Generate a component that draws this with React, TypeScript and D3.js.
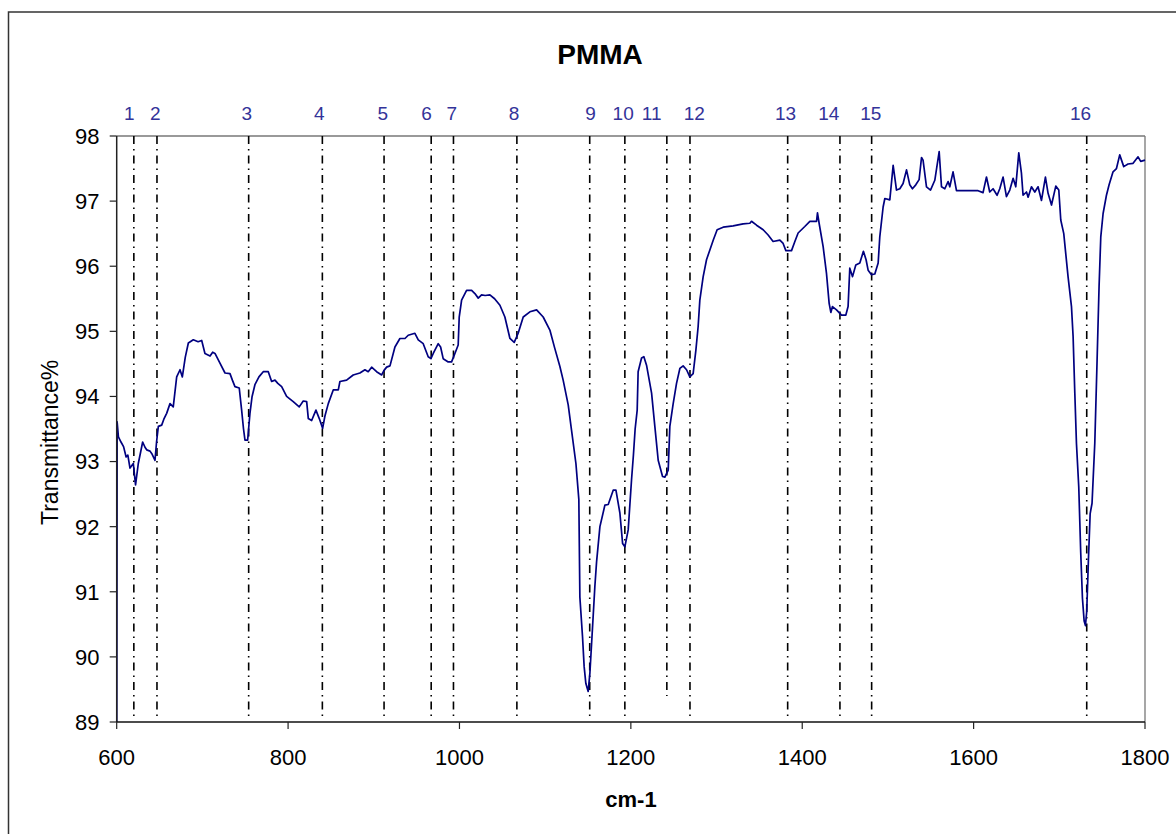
import React from "react";
import * as d3 from "d3";

const TITLE = "PMMA";
const X_TITLE = "cm-1";
const Y_TITLE = "Transmittance%";

const xTicks = [600, 800, 1000, 1200, 1400, 1600, 1800];
const yTicks = [89, 90, 91, 92, 93, 94, 95, 96, 97, 98];

// peak markers (wavenumber of dash-dot line), label positions and line bottoms
const peakIds = ["1","2","3","4","5","6","7","8","9","10","11","12","13","14","15","16"];
const peakWn = [620, 647, 754, 840, 912, 967, 993, 1067, 1152, 1193, 1242, 1269, 1383, 1444, 1481, 1732];
const peakLabelWn = [614.7, 645, 751.7, 836.4, 910.4, 961.7, 990.9, 1063.6, 1153, 1191, 1224.3, 1274, 1380.6, 1431, 1480, 1724.8];
const peakLineBottom = [89.06, 89.06, 89.06, 89.06, 89.06, 89.06, 89.06, 89.06, 89.06, 89.06, 89.4, 89.06, 89.06, 89.06, 89.06, 89.06];

// spectrum: wavenumber (cm-1) and transmittance (%)
const wavenumber = [
  600, 600.5, 602, 605, 608, 611, 613, 615.5, 619.4, 622, 625.2, 628, 630.3, 633, 635, 638.9, 641, 644.7, 646.5, 648.6,
  652.5, 655, 658.3, 662.2, 666, 670, 673.9, 676.6, 680, 683.6, 689.4, 695, 699.2, 703, 708.9, 712, 714.7, 720.5, 726.4, 732.2,
  735, 738, 743, 745.8, 748, 749.7, 752.8, 755.5, 758, 761.3, 766, 771, 776.9, 780.8, 784.7, 788, 792.5, 798.3, 806, 813,
  817.7, 821.7, 823.6, 827.5, 832.5, 836.4, 840.3, 843, 846.9, 852.7, 858.6, 860.5, 868.3, 876, 883.8, 889.7, 893.5, 897.5, 903.3, 909.2,
  912, 915, 918.9, 924.7, 930.5, 936.4, 940.2, 948, 951.9, 957.7, 963.5, 966.7, 969.4, 975.2, 978, 981, 986.9, 990.8, 994.7, 998.5,
  999.7, 1002.5, 1008.3, 1014.2, 1018, 1021.9, 1025.8, 1030, 1035.5, 1041, 1047.2, 1053, 1058.9, 1063.9, 1068.5, 1074.4, 1082.2, 1090, 1097.7, 1105.5,
  1111, 1117.2, 1121, 1126.9, 1130.8, 1135.9, 1139.3, 1140.5, 1143.6, 1145.5, 1147.5, 1150.2, 1152.2, 1155.3, 1158, 1160, 1163.9, 1169.7, 1173.6, 1179.4,
  1182.6, 1187.2, 1190.4, 1193, 1196.9, 1200.8, 1203, 1205, 1207.4, 1208.5, 1212.5, 1215.2, 1218.3, 1224.2, 1228, 1231.9, 1237, 1239.7, 1243.6, 1245.5,
  1249.4, 1253.3, 1257.2, 1261, 1265, 1268.8, 1272.7, 1275.9, 1278.5, 1280.5, 1284.4, 1288.3, 1292.2, 1296.1, 1300.7, 1307.7, 1319.4, 1331, 1338.9, 1340.8,
  1346.7, 1354.4, 1360.2, 1366, 1373.9, 1377.7, 1380.9, 1387.5, 1391.4, 1395.2, 1403, 1408.9, 1416.7, 1417.8, 1419.7, 1424.4, 1428.3, 1431.4, 1433.4, 1435.3,
  1440, 1445.8, 1450.9, 1453.5, 1455.5, 1458.7, 1462.5, 1467.2, 1471.4, 1474.5, 1476.9, 1480.8, 1484.7, 1488.6, 1490.5, 1494.4, 1496.4, 1502.2, 1506.1, 1510,
  1513.9, 1517.7, 1521.7, 1525.5, 1528.6, 1532.5, 1536.4, 1539.2, 1541, 1545, 1549.7, 1554.7, 1559.8, 1562.5, 1566.4, 1570.2, 1572.2, 1576, 1580, 1605.2,
  1611, 1615, 1618.8, 1622.7, 1627.4, 1630.5, 1634.4, 1638.3, 1642.2, 1646.1, 1649.2, 1652.7, 1655.8, 1657.7, 1661.7, 1663.6, 1667.5, 1671.4, 1675.2, 1679.2,
  1683.8, 1686.9, 1690.9, 1695.9, 1699.4, 1701.7, 1705.2, 1710.2, 1714.2, 1716.1, 1718.1, 1720, 1722.7, 1725, 1727, 1729, 1730.5, 1732, 1734, 1736,
  1738.2, 1741.4, 1744.1, 1746.4, 1748.4, 1751.1, 1755, 1758.1, 1762.7, 1766.7, 1770.5, 1775.2, 1780.2, 1786.1, 1791.9, 1795, 1800
];
const transmittance = [
  89.0, 93.61, 93.38, 93.3, 93.23, 93.07, 93.1, 92.9, 92.97, 92.64, 92.97, 93.15, 93.3, 93.22, 93.18, 93.16, 93.12, 93.02, 93.3, 93.54,
  93.56, 93.65, 93.74, 93.89, 93.84, 94.3, 94.41, 94.3, 94.6, 94.82, 94.87, 94.84, 94.86, 94.66, 94.62, 94.68, 94.66, 94.51, 94.36, 94.35,
  94.25, 94.15, 94.13, 93.79, 93.5, 93.33, 93.33, 93.74, 94.0, 94.18, 94.3, 94.38, 94.38, 94.23, 94.25, 94.2, 94.15, 94.0, 93.92, 93.84,
  93.93, 93.92, 93.66, 93.63, 93.79, 93.66, 93.51, 93.7, 93.89, 94.1, 94.1, 94.23, 94.25, 94.33, 94.36, 94.41, 94.38, 94.45, 94.38, 94.33,
  94.4, 94.45, 94.47, 94.76, 94.89, 94.89, 94.94, 94.97, 94.87, 94.81, 94.61, 94.58, 94.66, 94.81, 94.76, 94.58, 94.53, 94.53, 94.66, 94.79,
  95.22, 95.48, 95.63, 95.63, 95.58, 95.51, 95.56, 95.55, 95.56, 95.5, 95.4, 95.22, 94.89, 94.83, 94.97, 95.22, 95.3, 95.33, 95.22, 95.02,
  94.75, 94.46, 94.25, 93.87, 93.48, 92.97, 92.42, 90.92, 90.31, 89.85, 89.59, 89.47, 89.75, 90.46, 91.08, 91.46, 92.0, 92.33, 92.34, 92.56,
  92.56, 92.21, 91.74, 91.69, 91.95, 92.72, 93.1, 93.5, 93.79, 94.38, 94.59, 94.61, 94.48, 94.05, 93.54, 93.02, 92.77, 92.76, 92.87, 93.54,
  93.89, 94.2, 94.43, 94.47, 94.41, 94.3, 94.35, 94.71, 95.07, 95.48, 95.84, 96.1, 96.25, 96.4, 96.56, 96.6, 96.62, 96.65, 96.66, 96.69,
  96.63, 96.56, 96.48, 96.38, 96.4, 96.35, 96.24, 96.24, 96.38, 96.51, 96.61, 96.69, 96.69, 96.82, 96.66, 96.3, 95.89, 95.43, 95.29, 95.38,
  95.33, 95.25, 95.25, 95.38, 95.97, 95.84, 96.02, 96.05, 96.23, 96.1, 95.94, 95.87, 95.88, 96.05, 96.45, 96.91, 97.04, 97.02, 97.55, 97.17,
  97.19, 97.27, 97.48, 97.25, 97.19, 97.25, 97.33, 97.67, 97.63, 97.22, 97.17, 97.32, 97.76, 97.22, 97.19, 97.3, 97.22, 97.45, 97.16, 97.16,
  97.13, 97.37, 97.14, 97.19, 97.09, 97.19, 97.37, 97.07, 97.17, 97.35, 97.22, 97.74, 97.43, 97.09, 97.14, 97.06, 97.22, 97.14, 97.22, 97.01,
  97.37, 97.12, 96.94, 97.23, 97.17, 96.71, 96.5, 95.84, 95.38, 94.92, 94.05, 93.28, 92.61, 91.6, 90.9, 90.55, 90.48, 90.7, 91.5, 92.2,
  92.36, 93.28, 94.56, 95.69, 96.45, 96.81, 97.09, 97.25, 97.45, 97.5, 97.71, 97.53, 97.57, 97.58, 97.68, 97.61, 97.63
];

const FONT = "'Liberation Sans', Arial, Helvetica, sans-serif";

export default function App() {
  const W = 1176, H = 834;
  const left = 116.7, right = 1145, top = 136, bottom = 722;
  const x = d3.scaleLinear().domain([600, 1800]).range([left, right]);
  const y = d3.scaleLinear().domain([89, 98]).range([bottom, top]);

  const pts: [number, number][] = wavenumber.map((w, i) => [w, transmittance[i]]);
  const lineGen = d3.line<[number, number]>().x(d => x(d[0])).y(d => y(d[1]));
  const path = lineGen(pts) || "";

  return (
    <svg width={W} height={H} style={{ position: "absolute", left: 0, top: 0, background: "#fff" }} fontFamily={FONT}>
      <defs>
        <clipPath id="plotclip">
          <rect x={left} y={top - 2} width={right - left + 3} height={bottom - top + 2} />
        </clipPath>
      </defs>
      <rect x={0} y={0} width={W} height={H} fill="#fff" />
      {/* outer chart frame */}
      <rect x={8.5} y={12} width={1200} height={900} fill="none" stroke="#333" strokeWidth={1.5} />

      {/* title */}
      <text x={600} y={64} textAnchor="middle" fontSize={28} fontWeight="bold" fill="#000">{TITLE}</text>

      {/* plot area border (top/right gray) */}
      <line x1={left} y1={top} x2={right} y2={top} stroke="#777" strokeWidth={1.3} />
      <line x1={right} y1={top} x2={right} y2={bottom} stroke="#777" strokeWidth={1.3} />

      {/* peak dash-dot lines */}
      {peakWn.map((w, i) => (
        <line key={"pl" + i} x1={x(w)} x2={x(w)} y1={top} y2={y(peakLineBottom[i])}
          stroke="#000" strokeWidth={1.6} strokeDasharray="8,5,1.5,5" />
      ))}
      {peakIds.map((id, i) => (
        <text key={"pt" + i} x={x(peakLabelWn[i])} y={120} textAnchor="middle" fontSize={19} fill="#333399">{id}</text>
      ))}

      {/* spectrum */}
      <path d={path} fill="none" stroke="#000080" strokeWidth={1.7} strokeLinejoin="round" clipPath="url(#plotclip)" />

      {/* axes */}
      <line x1={left} y1={top} x2={left} y2={bottom} stroke="#222" strokeWidth={1.5} />
      <line x1={left} y1={bottom} x2={right} y2={bottom} stroke="#111" strokeWidth={1.5} />
      {yTicks.map(t => (
        <g key={"y" + t}>
          <line x1={left - 7} x2={left} y1={y(t)} y2={y(t)} stroke="#222" strokeWidth={1.2} />
          <text x={99.5} y={y(t)} dy="0.36em" textAnchor="end" fontSize={22} fill="#000">{t}</text>
        </g>
      ))}
      {xTicks.map(t => (
        <g key={"x" + t}>
          <line x1={x(t)} x2={x(t)} y1={bottom} y2={bottom + 7} stroke="#222" strokeWidth={1.2} />
          <text x={x(t)} y={764.5} textAnchor="middle" fontSize={22} fill="#000">{t}</text>
        </g>
      ))}

      {/* axis titles */}
      <text x={631} y={807} textAnchor="middle" fontSize={22} fontWeight="bold" fill="#000">{X_TITLE}</text>
      <text transform={`translate(58,525) rotate(-90)`} textAnchor="start" fontSize={23} fill="#000">{Y_TITLE}</text>
    </svg>
  );
}
